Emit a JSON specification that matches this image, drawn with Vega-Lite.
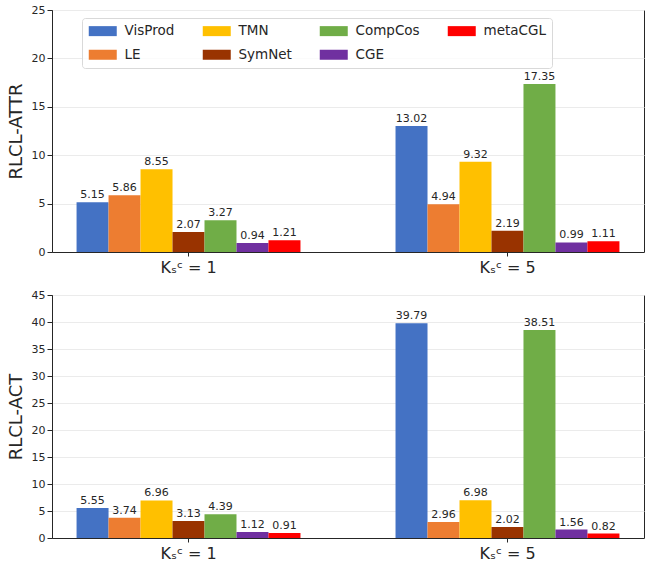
{
  "$schema": "https://vega.github.io/schema/vega-lite/v6.json",
  "padding": {"left": 6, "top": 3, "right": 0, "bottom": 0},
  "spacing": 12,
  "data": {
    "values": [
      {"metric": "RLCL-ATTR", "k": "Kₛᶜ = 1", "method": "VisProd", "value": 5.15},
      {"metric": "RLCL-ATTR", "k": "Kₛᶜ = 1", "method": "LE", "value": 5.86},
      {"metric": "RLCL-ATTR", "k": "Kₛᶜ = 1", "method": "TMN", "value": 8.55},
      {"metric": "RLCL-ATTR", "k": "Kₛᶜ = 1", "method": "SymNet", "value": 2.07},
      {"metric": "RLCL-ATTR", "k": "Kₛᶜ = 1", "method": "CompCos", "value": 3.27},
      {"metric": "RLCL-ATTR", "k": "Kₛᶜ = 1", "method": "CGE", "value": 0.94},
      {"metric": "RLCL-ATTR", "k": "Kₛᶜ = 1", "method": "metaCGL", "value": 1.21},
      {"metric": "RLCL-ATTR", "k": "Kₛᶜ = 5", "method": "VisProd", "value": 13.02},
      {"metric": "RLCL-ATTR", "k": "Kₛᶜ = 5", "method": "LE", "value": 4.94},
      {"metric": "RLCL-ATTR", "k": "Kₛᶜ = 5", "method": "TMN", "value": 9.32},
      {"metric": "RLCL-ATTR", "k": "Kₛᶜ = 5", "method": "SymNet", "value": 2.19},
      {"metric": "RLCL-ATTR", "k": "Kₛᶜ = 5", "method": "CompCos", "value": 17.35},
      {"metric": "RLCL-ATTR", "k": "Kₛᶜ = 5", "method": "CGE", "value": 0.99},
      {"metric": "RLCL-ATTR", "k": "Kₛᶜ = 5", "method": "metaCGL", "value": 1.11},
      {"metric": "RLCL-ACT", "k": "Kₛᶜ = 1", "method": "VisProd", "value": 5.55},
      {"metric": "RLCL-ACT", "k": "Kₛᶜ = 1", "method": "LE", "value": 3.74},
      {"metric": "RLCL-ACT", "k": "Kₛᶜ = 1", "method": "TMN", "value": 6.96},
      {"metric": "RLCL-ACT", "k": "Kₛᶜ = 1", "method": "SymNet", "value": 3.13},
      {"metric": "RLCL-ACT", "k": "Kₛᶜ = 1", "method": "CompCos", "value": 4.39},
      {"metric": "RLCL-ACT", "k": "Kₛᶜ = 1", "method": "CGE", "value": 1.12},
      {"metric": "RLCL-ACT", "k": "Kₛᶜ = 1", "method": "metaCGL", "value": 0.91},
      {"metric": "RLCL-ACT", "k": "Kₛᶜ = 5", "method": "VisProd", "value": 39.79},
      {"metric": "RLCL-ACT", "k": "Kₛᶜ = 5", "method": "LE", "value": 2.96},
      {"metric": "RLCL-ACT", "k": "Kₛᶜ = 5", "method": "TMN", "value": 6.98},
      {"metric": "RLCL-ACT", "k": "Kₛᶜ = 5", "method": "SymNet", "value": 2.02},
      {"metric": "RLCL-ACT", "k": "Kₛᶜ = 5", "method": "CompCos", "value": 38.51},
      {"metric": "RLCL-ACT", "k": "Kₛᶜ = 5", "method": "CGE", "value": 1.56},
      {"metric": "RLCL-ACT", "k": "Kₛᶜ = 5", "method": "metaCGL", "value": 0.82}
    ]
  },
  "config": {
    "font": "DejaVu Sans",
    "view": {"stroke": "#262626", "strokeWidth": 1},
    "axis": {
      "domainColor": "#262626",
      "tickColor": "#262626",
      "labelColor": "#262626",
      "titleColor": "#262626",
      "titleFontWeight": "normal",
      "gridColor": "#ebebeb"
    },
    "legend": {"labelColor": "#262626"}
  },
  "resolve": {"legend": {"color": "independent"}},
  "vconcat": [
    {
      "width": 592,
      "height": 242,
      "transform": [{"filter": "datum.metric === 'RLCL-ATTR'"}],
      "encoding": {
        "x": {
          "field": "k",
          "type": "nominal",
          "scale": {"paddingInner": 0.298, "paddingOuter": 0.077},
          "axis": {"title": null, "labelAngle": 0, "labelFontSize": 16, "tickSize": 4, "labelPadding": 3, "grid": false}
        },
        "xOffset": {
          "field": "method",
          "type": "nominal",
          "sort": ["VisProd", "LE", "TMN", "SymNet", "CompCos", "CGE", "metaCGL"],
          "scale": {"paddingInner": 0, "paddingOuter": 0}
        },
        "y": {
          "field": "value",
          "type": "quantitative",
          "scale": {"domain": [0, 25], "nice": false},
          "axis": {"title": "RLCL-ATTR", "values": [0, 5, 10, 15, 20, 25], "titleFontSize": 18, "labelFontSize": 11, "tickSize": 5, "labelPadding": 2, "titlePadding": 6}
        }
      },
      "layer": [
        {
          "mark": {"type": "bar"},
          "encoding": {
            "color": {
              "field": "method",
              "type": "nominal",
              "scale": {
                "domain": ["VisProd", "TMN", "CompCos", "metaCGL", "LE", "SymNet", "CGE"],
                "range": ["#4472c4", "#ffc000", "#70ad47", "#ff0000", "#ed7d31", "#993300", "#7030a0"]
              },
              "legend": {
                "title": null,
                "orient": "none",
                "legendX": 30,
                "legendY": 8,
                "direction": "horizontal",
                "columns": 4,
                "symbolType": "M-2.333,-0.833h4.667v1.667h-4.667z",
                "symbolSize": 144,
                "symbolOffset": 8,
                "symbolStrokeWidth": 0,
                "labelFontSize": 13.5,
                "labelOffset": 15,
                "columnPadding": 27,
                "rowPadding": 9,
                "padding": 6,
                "strokeColor": "#d9d9d9",
                "cornerRadius": 3,
                "fillColor": "rgba(255,255,255,0.8)"
              }
            }
          }
        },
        {
          "mark": {"type": "text", "baseline": "bottom", "dy": -2, "fontSize": 11, "color": "#262626"},
          "encoding": {"text": {"field": "value", "type": "quantitative", "format": ".2f"}}
        }
      ]
    },
    {
      "width": 592,
      "height": 243,
      "transform": [{"filter": "datum.metric === 'RLCL-ACT'"}],
      "encoding": {
        "x": {
          "field": "k",
          "type": "nominal",
          "scale": {"paddingInner": 0.298, "paddingOuter": 0.077},
          "axis": {"title": null, "labelAngle": 0, "labelFontSize": 16, "tickSize": 4, "labelPadding": 3, "grid": false}
        },
        "xOffset": {
          "field": "method",
          "type": "nominal",
          "sort": ["VisProd", "LE", "TMN", "SymNet", "CompCos", "CGE", "metaCGL"],
          "scale": {"paddingInner": 0, "paddingOuter": 0}
        },
        "y": {
          "field": "value",
          "type": "quantitative",
          "scale": {"domain": [0, 45], "nice": false},
          "axis": {"title": "RLCL-ACT", "values": [0, 5, 10, 15, 20, 25, 30, 35, 40, 45], "titleFontSize": 18, "labelFontSize": 11, "tickSize": 5, "labelPadding": 2, "titlePadding": 6}
        }
      },
      "layer": [
        {
          "mark": {"type": "bar"},
          "encoding": {
            "color": {
              "field": "method",
              "type": "nominal",
              "scale": {
                "domain": ["VisProd", "TMN", "CompCos", "metaCGL", "LE", "SymNet", "CGE"],
                "range": ["#4472c4", "#ffc000", "#70ad47", "#ff0000", "#ed7d31", "#993300", "#7030a0"]
              },
              "legend": null
            }
          }
        },
        {
          "mark": {"type": "text", "baseline": "bottom", "dy": -2, "fontSize": 11, "color": "#262626"},
          "encoding": {"text": {"field": "value", "type": "quantitative", "format": ".2f"}}
        }
      ]
    }
  ]
}
